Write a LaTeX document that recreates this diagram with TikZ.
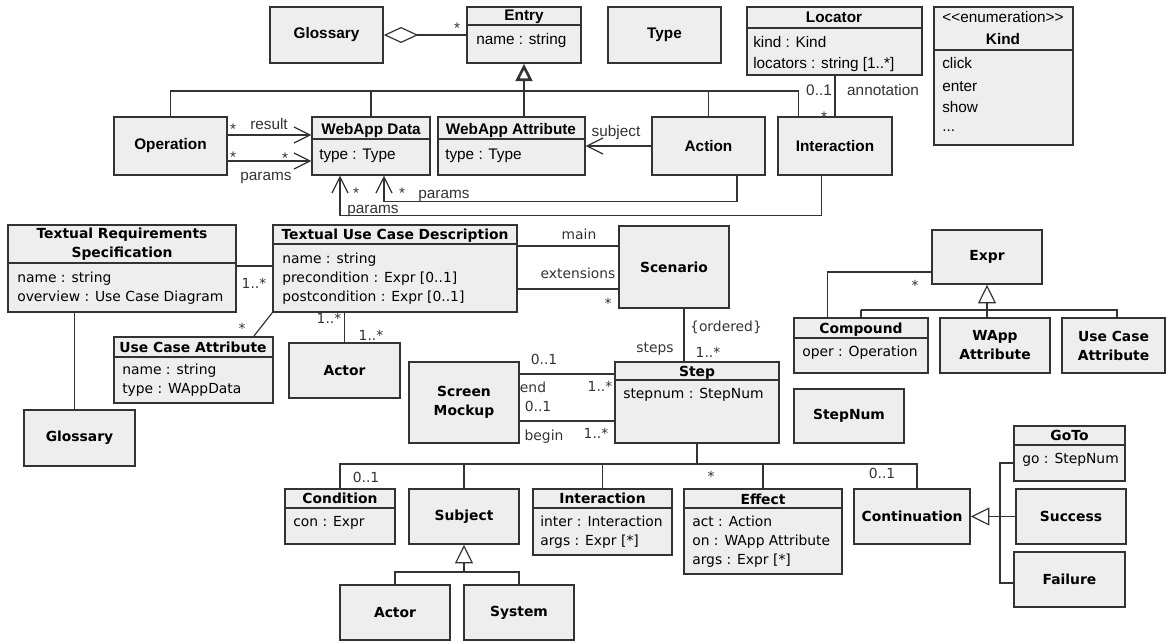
\documentclass[tikz,border=0pt]{standalone}
\usepackage{fontspec}
\setmainfont{Liberation Sans}
\newfontfamily\lgfont{DejaVu Sans}
\usetikzlibrary{arrows.meta,fit}
\definecolor{boxfill}{HTML}{EEEEEE}
\definecolor{ink}{HTML}{333333}
\begin{document}
\begin{tikzpicture}[x=0.75pt,y=-0.75pt,
  box/.style={draw=ink, fill=boxfill, line width=1.1pt, inner sep=0pt},
  tname/.style={font=\fontsize{11.5}{13.5}\selectfont\bfseries, align=center, inner sep=0pt},
  lname/.style={font=\lgfont\fontsize{10.4}{14.25}\selectfont\bfseries, align=center, inner sep=0pt},
  tbox/.style={box, label={[tname]center:{#1}}},
  lbox/.style={box, label={[lname]center:{#1}}},
  ttitle/.style={font=\fontsize{11.5}{13.5}\selectfont\bfseries, anchor=base, inner sep=0pt},
  tattr/.style={font=\fontsize{11.5}{13.5}\selectfont, anchor=base west, inner sep=0pt},
  tlab/.style={font=\fontsize{11.5}{13.5}\selectfont, anchor=base, inner sep=0pt, text=ink},
  ltitle/.style={font=\lgfont\fontsize{10.4}{14.25}\selectfont\bfseries, anchor=base, inner sep=0pt, align=center},
  lattr/.style={font=\lgfont\fontsize{10.4}{14.25}\selectfont, anchor=base west, inner sep=0pt},
  llab/.style={font=\lgfont\fontsize{10.4}{14.25}\selectfont, anchor=base, inner sep=0pt, text=ink},
  rule/.style={draw=ink, line width=1.1pt},
  conn/.style={draw=ink, line width=0.9pt},
  nav/.style={conn, -{Straight Barb[length=12pt,width=12pt]}},
  gen/.style={conn, {Triangle[fill=white, length=14pt, width=13.5pt]}-},
  genbold/.style={conn, {Triangle[fill=white, length=13pt, width=12.5pt, line width=2pt]}-},
  agg/.style={conn, {Diamond[fill=white, length=26pt, width=12pt]}-}
]
\useasboundingbox (0,0) rectangle (1166,642);

% ---------------- glossary entries and web application model ----------------
\node[tbox=Glossary, fit={(270,7) (383,63)}] (glos) {};
\node[box, fit={(467,7) (581,63)}] (entry) {};
\node[ttitle] at (524,21) {Entry};
\draw[rule] (entry.west |- 0,25) -- (entry.east |- 0,25);
\node[tattr] at (476,45) {name : string};
\node[tbox=Type, fit={(608,7) (721,63)}] (type) {};

\node[box, fit={(747,7) (922,75)}] (loc) {};
\node[ttitle] at (834,23) {Locator};
\draw[rule] (loc.west |- 0,28) -- (loc.east |- 0,28);
\node[tattr] at (753,48) {kind : Kind};
\node[tattr] at (753,69) {locators : string [1..*]};

\node[box, fit={(934,7) (1073,145)}] (kind) {};
\node[tlab, text=black] at (1003,23) {<{}<enumeration>{}>};
\node[ttitle] at (1003,45) {Kind};
\draw[rule] (kind.west |- 0,50) -- (kind.east |- 0,50);
\node[tattr] at (942,69) {click};
\node[tattr] at (942,91) {enter};
\node[tattr] at (942,112) {show};
\node[tattr] at (942,131) {...};

\node[tbox=Operation, fit={(114,117) (227,175)}] (op) {};
\node[box, fit={(312,117) (430,175)}] (wdata) {};
\node[ttitle] at (371,134) {WebApp Data};
\draw[rule] (wdata.west |- 0,139) -- (wdata.east |- 0,139);
\node[tattr] at (319,159) {type : Type};
\node[box, fit={(438,117) (585,175)}] (wattr) {};
\node[ttitle] at (511,134) {WebApp Attribute};
\draw[rule] (wattr.west |- 0,139) -- (wattr.east |- 0,139);
\node[tattr] at (445,159) {type : Type};
\node[tbox=Action, fit={(652,117) (765,175)}] (action) {};
\node[tbox=Interaction, fit={(778,117) (892,175)}] (iact) {};

% aggregation glossary -> entries
\draw[agg] (glos.east) -- (glos.east -| entry.west);
\node[tlab] at (457,34) {*};

% specialisations of Entry
\coordinate (ebar) at (0,91);
\draw[genbold] (entry.south) -- (entry.south |- ebar);
\draw[conn] (op.north) -- (op.north |- ebar) -- ([xshift=15.75pt]iact.north west |- ebar) -- ([xshift=15.75pt]iact.north west);
\draw[conn] (wdata.north) -- (wdata.north |- ebar);
\draw[conn] (entry.south |- ebar) -- (entry.south |- wattr.north);
\draw[conn] (action.north) -- (action.north |- ebar);

% navigable associations
\draw[nav] ([yshift=8.25pt]op.east) -- ([yshift=8.25pt]op.east -| wdata.west);
\node[tlab] at (233,134) {*};
\node[tlab] at (269,129) {result};
\draw[nav] ([yshift=-11.25pt]op.east) -- ([yshift=-11.25pt]op.east -| wdata.west);
\node[tlab] at (233,162) {*};
\node[tlab] at (285,163) {*};
\node[tlab] at (266,180) {params};

\draw[nav] (action.west) -- (action.west -| wattr.east);
\node[tlab] at (616,136) {subject};

\draw[nav] ([xshift=21.4pt]action.south) -- ++(0,26) -| ([xshift=9.75pt]wdata.south);
\node[tlab] at (402,198) {*};
\node[tlab] at (444,198) {params};
\draw[nav] ([xshift=-10.1pt]iact.south) -- ++(0,40) -| ([xshift=-23.25pt]wdata.south);
\node[tlab] at (356,198) {*};
\node[tlab] at (373,213) {params};

\draw[conn] (iact.north) -- (iact.north |- loc.south);
\node[tlab] at (819,95) {0..1};
\node[tlab] at (883,95) {annotation};
\node[tlab] at (824,122) {*};

% ---------------- textual requirements and use cases ----------------
\node[box, fit={(8,225) (236,312)}] (trs) {};
\node[ltitle, anchor=center] at (122,244.5) {Textual Requirements\\Specification};
\draw[rule] (trs.west |- 0,263) -- (trs.east |- 0,263);
\node[lattr] at (17,282) {name : string};
\node[lattr] at (17,301) {overview : Use Case Diagram};

\node[lbox=Glossary, fit={(24,410) (135,466)}] (glos2) {};
\draw[conn] ([xshift=-4pt]glos2.north) -- ([xshift=-4pt]glos2.north |- trs.south);

\node[box, fit={(273,225) (517,312)}] (tucd) {};
\node[ltitle] at (395,239.5) {Textual Use Case Description};
\draw[rule] (tucd.west |- 0,244) -- (tucd.east |- 0,244);
\node[lattr] at (282,263) {name : string};
\node[lattr] at (282,282) {precondition : Expr [0..1]};
\node[lattr] at (282,301) {postcondition : Expr [0..1]};

\draw[conn] ([yshift=1.9pt]trs.east) -- ([yshift=1.9pt]trs.east -| tucd.west);
\node[llab] at (254,288) {1..*};

\node[box, fit={(114,337) (273,403)}] (uca) {};
\node[ltitle] at (193,352) {Use Case Attribute};
\draw[rule] (uca.west |- 0,357) -- (uca.east |- 0,357);
\node[lattr] at (122,374) {name : string};
\node[lattr] at (122,393) {type : WAppData};
\draw[conn] (tucd.south west) -- ([xshift=-15pt]uca.north east);
\node[llab] at (242,333) {*};

\node[lbox=Actor, fit={(289,343) (400,398)}] (actor) {};
\draw[conn] (actor.north) -- (actor.north |- tucd.south);
\node[llab] at (329,323) {1..*};
\node[llab] at (371,340) {1..*};

\node[lbox=Scenario, fit={(619,226) (729,308)}] (scen) {};
\draw[conn] ([yshift=16.9pt]tucd.east) -- ([yshift=16.9pt]tucd.east -| scen.west);
\node[llab] at (579,239) {main};
\draw[conn] ([yshift=-15.4pt]tucd.east) -- ([yshift=-15.4pt]tucd.east -| scen.west);
\node[llab] at (578,278) {extensions};
\node[llab] at (608,308) {*};

\node[box, fit={(615,362) (779,443)}] (step) {};
\node[ltitle] at (697,376) {Step};
\draw[rule] (step.west |- 0,380) -- (step.east |- 0,380);
\node[lattr] at (623,398) {stepnum : StepNum};

\draw[conn] ([xshift=7.5pt]scen.south) -- ([xshift=7.5pt]scen.south |- step.north);
\node[llab] at (726,331) {\{ordered\}};
\node[llab] at (655,352) {steps};
\node[llab] at (708,357) {1..*};

\node[lbox={Screen\\Mockup}, fit={(409,362) (519,443)}] (mock) {};
\draw[conn] ([yshift=21.4pt]mock.east) -- ([yshift=21.4pt]mock.east -| step.west);
\node[llab] at (544,364) {0..1};
\node[llab] at (533,392) {end};
\node[llab] at (600,391) {1..*};
\draw[conn] ([yshift=-13.9pt]mock.east) -- ([yshift=-13.9pt]mock.east -| step.west);
\node[llab] at (538,411) {0..1};
\node[llab] at (544,440) {begin};
\node[llab] at (596,438) {1..*};

\node[lbox=StepNum, fit={(794,389) (904,443)}] (snum) {};

% ---------------- expressions ----------------
\node[lbox=Expr, fit={(932,230) (1042,284)}] (expr) {};
\node[box, fit={(794,318) (928,373)}] (comp) {};
\node[ltitle] at (861,333) {Compound};
\draw[rule] (comp.west |- 0,338) -- (comp.east |- 0,338);
\node[lattr] at (802,356) {oper : Operation};
\node[lbox={WApp\\Attribute}, fit={(940,318) (1050,373)}] (wapp) {};
\node[lbox={Use Case\\Attribute}, fit={(1062,318) (1165,373)}] (uca2) {};

\coordinate (xbar) at (0,310);
\draw[gen] (expr.south) -- (expr.south |- wapp.north);
\draw[conn] (comp.north |- xbar) -- ([xshift=2.6pt]uca2.north |- xbar) -- ([xshift=2.6pt]uca2.north);
\draw[conn] (comp.north) -- (comp.north |- xbar);
\draw[conn] ([xshift=25.5pt]comp.north west) |- ([yshift=-11.25pt]expr.west);
\node[llab] at (915,290) {*};

% ---------------- parts of a step ----------------
\node[box, fit={(285,489) (395,544)}] (cond) {};
\node[ltitle] at (340,503) {Condition};
\draw[rule] (cond.west |- 0,508) -- (cond.east |- 0,508);
\node[lattr] at (293,526) {con : Expr};

\node[lbox=Subject, fit={(409,489) (519,544)}] (subj) {};

\node[box, fit={(533,489) (672,555)}] (inter) {};
\node[ltitle] at (602.5,503) {Interaction};
\draw[rule] (inter.west |- 0,508) -- (inter.east |- 0,508);
\node[lattr] at (540,526) {inter : Interaction};
\node[lattr] at (540,545) {args : Expr [*]};

\node[box, fit={(684,489) (842,574)}] (eff) {};
\node[ltitle] at (763,504) {Effect};
\draw[rule] (eff.west |- 0,508) -- (eff.east |- 0,508);
\node[lattr] at (692,526) {act : Action};
\node[lattr] at (692,545) {on : WApp Attribute};
\node[lattr] at (692,564) {args : Expr [*]};

\node[lbox=Continuation, fit={(854,489) (970,544)}] (cont) {};

\node[lbox=Actor, fit={(340,585) (450,640)}] (actor2) {};
\node[lbox=System, fit={(464,585) (574,640)}] (sys) {};

\node[box, fit={(1014,426) (1125,481)}] (goto) {};
\node[ltitle] at (1069.5,440) {GoTo};
\draw[rule] (goto.west |- 0,445) -- (goto.east |- 0,445);
\node[lattr] at (1022,463) {go : StepNum};
\node[lbox=Success, fit={(1016,489) (1126,544)}] (succ) {};
\node[lbox=Failure, fit={(1014,552) (1125,607)}] (fail) {};

\coordinate (sbar) at (0,464);
\draw[conn] (cond.north) -- (cond.north |- sbar) -- ([xshift=3.75pt]cont.north |- sbar) -- ([xshift=3.75pt]cont.north);
\draw[conn] (subj.north) -- (subj.north |- sbar);
\draw[conn] (inter.north) -- (inter.north |- sbar);
\draw[conn] (eff.north) -- (eff.north |- sbar);
\draw[conn, line width=2.2pt] (step.south) -- (step.south |- sbar) -- (eff.north |- sbar);
\node[llab] at (366,482) {0..1};
\node[llab] at (711,481) {*};
\node[llab] at (882,478) {0..1};

\coordinate (abar) at (0,572);
\draw[gen] (subj.south) -- (subj.south |- abar);
\draw[conn] (actor2.north) -- (actor2.north |- abar) -- (sys.north |- abar) -- (sys.north);

\coordinate (cbar) at (1000,0);
\draw[gen] (cont.east) -- (succ.west);
\draw[conn] ([yshift=-7.1pt]goto.west) -- ([yshift=-7.1pt]goto.west -| cbar) -- ([yshift=-2.6pt]fail.west -| cbar) -- ([yshift=-2.6pt]fail.west);
\end{tikzpicture}
\end{document}
